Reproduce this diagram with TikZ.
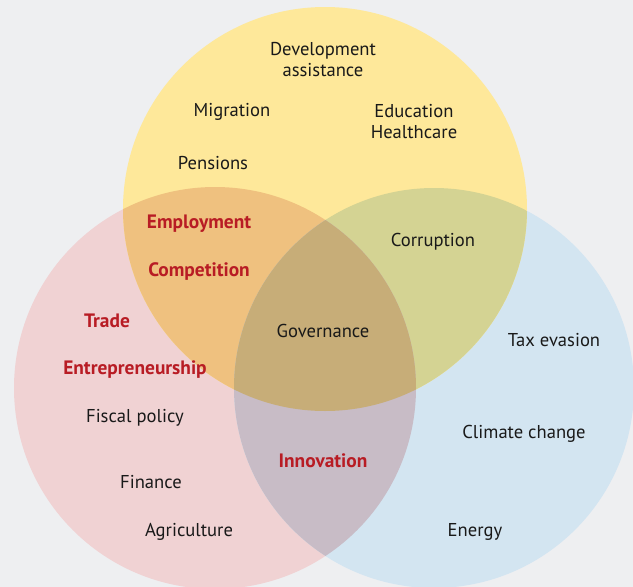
\documentclass[tikz,border=0pt]{standalone}
\usepackage{fontspec}
\setmainfont{PT Sans}
\definecolor{bgc}{HTML}{EEEFF1}
\definecolor{yel}{HTML}{FEE89A}
\definecolor{pnk}{HTML}{F0D2D3}
\definecolor{blu}{HTML}{D3E5F1}
\definecolor{yp}{HTML}{EFC17F}
\definecolor{yb}{HTML}{D4D393}
\definecolor{pb}{HTML}{C8BCC6}
\definecolor{ypb}{HTML}{C7AD78}
\definecolor{redt}{HTML}{B81C24}
\begin{document}
\begin{tikzpicture}[x=1pt,y=-1pt,
  lbl/.style={font=\fontsize{18.6}{21}\selectfont, text=black!90, align=center, inner sep=0pt},
  key/.style={font=\fontsize{19.4}{21}\selectfont\bfseries, text=redt, align=center, inner sep=0pt}]
\fill[bgc] (0,0) rectangle (633,587);
\useasboundingbox (0,0) rectangle (633,587);
\def\Yc{(325,209) circle[radius=202]}
\def\Pc{(215,388) circle[radius=201]}
\def\Bc{(434,388) circle[radius=200]}
\fill[pnk] \Pc;
\fill[blu] \Bc;
\fill[yel] \Yc;
\begin{scope}\clip \Pc; \fill[yp] \Yc; \end{scope}
\begin{scope}\clip \Bc; \fill[yb] \Yc; \end{scope}
\begin{scope}\clip \Pc; \fill[pb] \Bc; \end{scope}
\begin{scope}\clip \Pc; \clip \Bc; \fill[ypb] \Yc; \end{scope}
\begin{scope}[shift={(0,2)}]
\node[lbl] (dev) at (323,58) {Development\\assistance};
\node[lbl] (mig) at (232,110) {Migration};
\node[lbl] (edu) at (414,120) {Education\\Healthcare};
\node[lbl] (pen) at (213,161) {Pensions};
\node[key] (emp) at (199,222) {Employment};
\node[key] (com) at (199,270) {Competition};
\node[lbl] (cor) at (433,240) {Corruption};
\node[key] (tra) at (107,319) {Trade};
\node[lbl] (gov) at (323,329) {Governance};
\node[lbl] (tax) at (554,338) {Tax evasion};
\node[key] (ent) at (135,368) {Entrepreneurship};
\node[lbl] (fis) at (135,416) {Fiscal policy};
\node[lbl] (cli) at (524,432) {Climate change};
\node[key] (inn) at (323,459) {Innovation};
\node[lbl] (fin) at (151,480) {Finance};
\node[lbl] (agr) at (189,530) {Agriculture};
\node[lbl] (ene) at (475,530) {Energy};
\end{scope}
\end{tikzpicture}
\end{document}
